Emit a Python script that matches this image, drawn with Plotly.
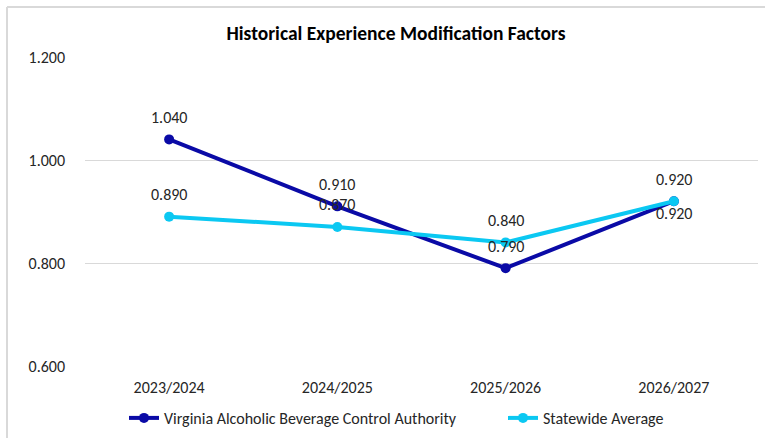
import plotly.graph_objects as go

categories = ["2023/2024", "2024/2025", "2025/2026", "2026/2027"]
vabc_values = [1.040, 0.910, 0.790, 0.920]
statewide_values = [0.890, 0.870, 0.840, 0.920]
series_names = ["Virginia Alcoholic Beverage Control Authority", "Statewide Average"]
y_ticks = [0.6, 0.8, 1.0, 1.2]

FONT = "Carlito, Calibri, Liberation Sans, Arial, sans-serif"
BLUE = "#0A0AA6"
CYAN = "#0BC8F2"
TXT = "#262626"

fig = go.Figure()
fig.add_trace(go.Scatter(
    x=categories, y=vabc_values, name=series_names[0],
    mode="lines+markers",
    line=dict(color=BLUE, width=4),
    marker=dict(color=BLUE, size=10),
    legend="legend",
))
fig.add_trace(go.Scatter(
    x=categories, y=statewide_values, name=series_names[1],
    mode="lines+markers",
    line=dict(color=CYAN, width=4),
    marker=dict(color=CYAN, size=10),
    legend="legend2",
))

# data labels
vabc_shift = [22, 22, 22, -12]
for c, v, s in zip(categories, vabc_values, vabc_shift):
    fig.add_annotation(x=c, y=v, text=f"{v:.3f}", showarrow=False, yshift=s,
                       font=dict(family=FONT, size=16, color=TXT))
for c, v in zip(categories, statewide_values):
    fig.add_annotation(x=c, y=v, text=f"{v:.3f}", showarrow=False, yshift=22,
                       font=dict(family=FONT, size=16, color=TXT))

W, H = 765, 438
ml, mr, mt, mb = 85, 7, 57, 72
pw, ph = W - ml - mr, H - mt - mb

legend_common = dict(orientation="h", xanchor="left",
                     y=-(418 - mt - ph) / ph, yanchor="middle",
                     font=dict(size=16, color=TXT),
                     itemwidth=30, bgcolor="rgba(0,0,0,0)")

fig.update_layout(
    width=W, height=H,
    margin=dict(l=ml, r=mr, t=mt, b=mb, autoexpand=False),
    paper_bgcolor="white", plot_bgcolor="white",
    font=dict(family=FONT, size=16, color=TXT),
    title=dict(text="<b>Historical Experience Modification Factors</b>",
               x=396 / W, xanchor="center", y=1 - 33 / H, yanchor="middle",
               font=dict(family=FONT, size=19.5, color="#000000")),
    xaxis=dict(showgrid=False, zeroline=False, showline=False,
               range=[-0.5, 3.5],
               ticks="", ticklabelstandoff=10,
               tickfont=dict(size=16, color=TXT)),
    yaxis=dict(range=[0.6, 1.2], tickvals=y_ticks, tickformat=".3f",
               showgrid=True, gridcolor="#D9D9D9", gridwidth=1,
               zeroline=False, showline=False, ticks="",
               ticklabelstandoff=19,
               tickfont=dict(size=16, color=TXT)),
    legend=dict(x=(124 - ml) / pw, **legend_common),
    legend2=dict(x=(503 - ml) / pw, **legend_common),
    showlegend=True,
)

# chart-area border (top and left edges visible)
top_y = 1 + (mt - 7) / ph
left_x = (7 - ml) / pw
fig.add_shape(type="line", xref="paper", yref="paper",
              x0=left_x, x1=(W - ml) / pw, y0=top_y, y1=top_y,
              line=dict(color="#D9D9D9", width=2))
fig.add_shape(type="line", xref="paper", yref="paper",
              x0=left_x, x1=left_x, y0=top_y, y1=-(H - mt - ph) / ph,
              line=dict(color="#D9D9D9", width=2))

fig.write_html("out.html", config={"displayModeBar": False},
               post_script="document.body.style.margin='0';document.body.style.overflow='hidden';")
